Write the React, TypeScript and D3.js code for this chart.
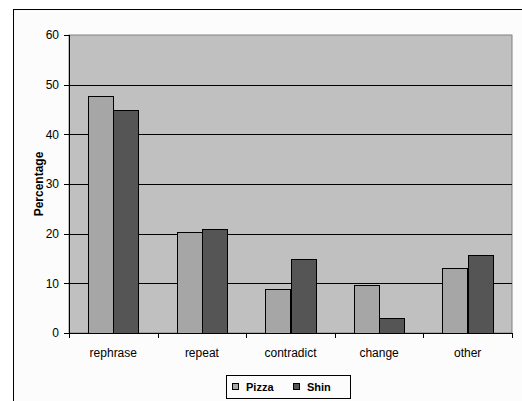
import React from "react";
import * as d3 from "d3";

const categories = ["rephrase", "repeat", "contradict", "change", "other"];
const seriesNames = ["Pizza", "Shin"];
const pizzaValues = [47.8, 20.3, 8.85, 9.6, 13.0];
const shinValues = [44.8, 20.9, 14.8, 3.0, 15.8];
const yTicks = [0, 10, 20, 30, 40, 50, 60];
const colors = ["#A6A6A6", "#555555"];

export default function App() {
  const W = 522, H = 401;
  const left = 69, right = 512, top = 35, bottom = 333;
  const x = d3.scaleBand<string>().domain(categories).range([left, right]).paddingInner(0).paddingOuter(0);
  const y = d3.scaleLinear().domain([0, 60]).range([bottom, top]);
  const bw = x.bandwidth() / 3.5;
  const series = [pizzaValues, shinValues];
  const font = "Arial, 'Liberation Sans', sans-serif";
  return (
    <svg width={W} height={H} style={{ position: "absolute", left: 0, top: 0 }} fontFamily={font}>
      <rect x={0} y={0} width={W} height={H} fill="#ffffff" />
      <rect x={13.5} y={9.5} width={W} height={H} fill="#FCFCFC" stroke="#000" strokeWidth={1} />
      <rect x={left} y={top} width={right - left} height={bottom - top} fill="#C0C0C0" stroke="#808080" strokeWidth={1} />
      {yTicks.filter(t => t > 0 && t < 60).map(t => (
        <line key={t} x1={left} x2={right} y1={Math.round(y(t)) + 0.5} y2={Math.round(y(t)) + 0.5} stroke="#000" strokeWidth={1} />
      ))}
      {categories.map((c, i) =>
        series.map((vals, s) => {
          const bx = (x(c) as number) + x.bandwidth() / 2 - bw + s * bw;
          return (
            <rect key={c + s} x={Math.round(bx) + 0.5} y={Math.round(y(vals[i])) + 0.5}
              width={Math.round(bw)} height={Math.round(y(0)) - Math.round(y(vals[i]))}
              fill={colors[s]} stroke="#000" strokeWidth={1} />
          );
        })
      )}
      {/* Y axis */}
      <line x1={left + 0.5} x2={left + 0.5} y1={top} y2={bottom + 1} stroke="#000" />
      {yTicks.map(t => (
        <g key={t}>
          <line x1={left - 5} x2={left} y1={Math.round(y(t)) + 0.5} y2={Math.round(y(t)) + 0.5} stroke="#000" />
          <text x={left - 10} y={y(t)} dy="0.35em" textAnchor="end" fontSize={12} fill="#000">{t}</text>
        </g>
      ))}
      {/* X axis */}
      <line x1={left} x2={right} y1={bottom + 0.5} y2={bottom + 0.5} stroke="#000" />
      {categories.map((c, i) => (
        <line key={"t" + c} x1={Math.round(x(c) as number) + 0.5} x2={Math.round(x(c) as number) + 0.5} y1={bottom} y2={bottom + 5} stroke="#000" />
      ))}
      <line x1={right + 0.5} x2={right + 0.5} y1={bottom} y2={bottom + 5} stroke="#000" />
      {categories.map(c => (
        <text key={"l" + c} x={(x(c) as number) + x.bandwidth() / 2} y={353} dy="0.35em" textAnchor="middle" fontSize={12} fill="#000">{c}</text>
      ))}
      <text transform={`translate(39,${(top + bottom) / 2}) rotate(-90)`} textAnchor="middle" dy="0.35em" fontSize={12} fontWeight="bold" fill="#000">Percentage</text>
      {/* Legend */}
      <rect x={226.5} y={375.5} width={124} height={23} fill="#FCFCFC" stroke="#000" />
      {seriesNames.map((n, i) => (
        <g key={n} transform={`translate(${232 + i * 61},387)`}>
          <rect x={0.5} y={-3.5} width={6} height={6} fill={colors[i]} stroke="#000" />
          <text x={14} y={0} dy="0.35em" fontSize={11} fontWeight="bold" fill="#000">{n}</text>
        </g>
      ))}
    </svg>
  );
}
